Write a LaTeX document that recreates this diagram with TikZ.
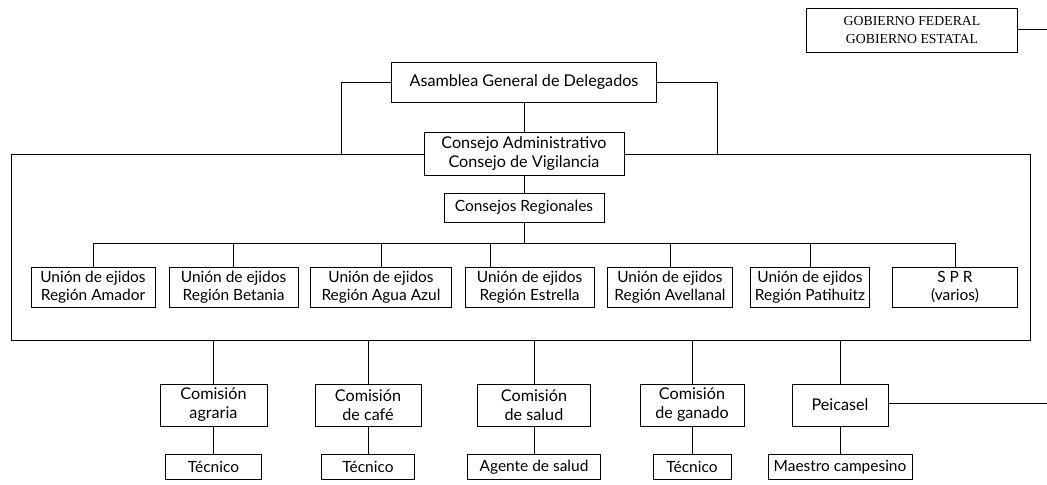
\documentclass[tikz,border=0pt]{standalone}
\usepackage{fontspec}
\usepackage{tikz}
\newfontfamily\orgfont{Lato}
\newfontfamily\govfont{Liberation Serif}

\begin{document}
\begin{tikzpicture}[line width=0.7pt,
    box/.style={draw, fill=white, align=center, inner sep=1pt, font=\orgfont\fontsize{11}{13}\selectfont},
    bigbox/.style={box, font=\orgfont\fontsize{11.5}{13.5}\selectfont},
    govbox/.style={box, font=\govfont\fontsize{9.8}{12.5}\selectfont}]
    \useasboundingbox (0,0) rectangle (26.175,12.125);

    % outer frame of the union
    \coordinate (fTL) at (0.275,8.275);
    \coordinate (fBR) at (25.75,3.625);
    \draw (fTL) rectangle (fBR);

    \node[govbox, minimum width=5.275cm, minimum height=1.1cm] (gob) at (22.8,11.375) {GOBIERNO FEDERAL\\GOBIERNO ESTATAL};
    \coordinate (gobend) at (26.175,11.4);
    \draw (gob.east |- gobend) -- (gobend);

    \node[bigbox, minimum width=6.625cm, minimum height=1cm] (asamblea) at (13.1,10.075) {Asamblea General de Delegados};
    \node[bigbox, minimum width=5cm, minimum height=1.075cm] (consejo) at (13.1,8.275) {Consejo Administrativo\\Consejo de Vigilancia};
    \node[box, minimum width=4cm, minimum height=0.725cm] (regionales) at (13.1,6.9375) {Consejos Regionales};

    \coordinate (lbranch) at (8.525,8.275);
    \coordinate (rbranch) at (17.925,8.275);
    \draw (asamblea.west) -| (lbranch);
    \draw (asamblea.east) -| (rbranch);
    \draw (asamblea) -- (consejo);
    \draw (consejo) -- (regionales);

    % uniones de ejidos
    \node[box, minimum width=3.1cm, minimum height=1cm] (amador) at (2.325,4.95) {Unión de ejidos\\Región Amador};
    \node[box, minimum width=3.225cm, minimum height=1cm] (betania) at (5.84,4.95) {Unión de ejidos\\Región Betania};
    \node[box, minimum width=3.525cm, minimum height=1cm] (aguaazul) at (9.525,4.95) {Unión de ejidos\\Región Agua Azul};
    \node[box, minimum width=3.225cm, minimum height=1cm] (estrella) at (13.24,4.95) {Unión de ejidos\\Región Estrella};
    \node[box, minimum width=3.125cm, minimum height=1cm] (avellanal) at (16.75,4.95) {Unión de ejidos\\Región Avellanal};
    \node[box, minimum width=2.975cm, minimum height=1cm] (patihuitz) at (20.25,4.95) {Unión de ejidos\\Región Patihuitz};
    \node[box, minimum width=3.125cm, minimum height=1cm] (spr) at (23.875,4.95) {S P R\\(varios)};

    \coordinate (bus) at (13.1,6.05);
    \draw (regionales) -- (bus);
    \draw (amador.north |- bus) -- (spr.north |- bus);
    \draw (amador.north) -- (amador.north |- bus);
    \draw (betania.north) -- (betania.north |- bus);
    \draw (aguaazul.north) -- (aguaazul.north |- bus);
    \draw ([xshift=-0.975cm]estrella.north) -- ([xshift=-0.975cm]estrella.north |- bus);
    \draw (avellanal.north) -- (avellanal.north |- bus);
    \draw (patihuitz.north) -- (patihuitz.north |- bus);
    \draw (spr.north) -- (spr.north |- bus);

    % comisiones
    \node[bigbox, minimum width=2.675cm, minimum height=1.05cm] (agraria) at (5.3375,2.0) {Comisión\\agraria};
    \node[bigbox, minimum width=2.65cm, minimum height=1.05cm] (cafe) at (9.2,2.0) {Comisión\\de café};
    \node[bigbox, minimum width=2.825cm, minimum height=1.05cm] (salud) at (13.35,2.0) {Comisión\\de salud};
    \node[bigbox, minimum width=2.6cm, minimum height=1.05cm] (ganado) at (17.3,2.0) {Comisión\\de ganado};
    \node[bigbox, minimum width=2.4cm, minimum height=1.05cm] (peicasel) at (21.0,2.0) {Peicasel};

    \node[box, minimum width=2.4cm, minimum height=0.625cm] (tecagraria) at (5.3375,0.45) {Técnico};
    \node[box, minimum width=2.325cm, minimum height=0.625cm] (teccafe) at (9.2,0.45) {Técnico};
    \node[box, minimum width=3.325cm, minimum height=0.625cm] (agente) at (13.35,0.45) {Agente de salud};
    \node[box, minimum width=1.95cm, minimum height=0.625cm] (tecganado) at (17.3,0.45) {Técnico};
    \node[box, minimum width=3.6cm, minimum height=0.625cm] (maestro) at (21.0,0.45) {Maestro campesino};

    \draw (agraria.north) -- (agraria.north |- fBR);
    \draw (cafe.north) -- (cafe.north |- fBR);
    \draw (salud.north) -- (salud.north |- fBR);
    \draw (ganado.north) -- (ganado.north |- fBR);
    \draw (peicasel.north) -- (peicasel.north |- fBR);

    \draw (agraria) -- (tecagraria);
    \draw (cafe) -- (teccafe);
    \draw (salud) -- (agente);
    \draw (ganado) -- (tecganado);
    \draw (peicasel) -- (maestro);

    \coordinate (peiend) at (26.175,2.05);
    \draw (peicasel.east |- peiend) -- (peiend);
\end{tikzpicture}
\end{document}
